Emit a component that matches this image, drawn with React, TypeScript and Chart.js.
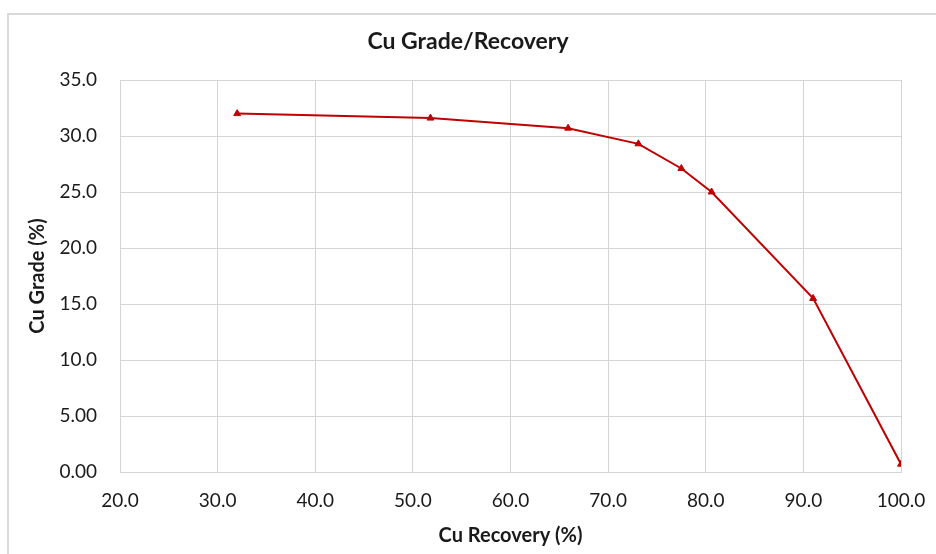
import React, { useEffect, useRef } from "react";
import { Chart, registerables } from "chart.js";

Chart.register(...registerables);

const recovery = [32.0, 51.8, 65.9, 73.1, 77.5, 80.6, 91.0, 100.0];
const grade = [32.0, 31.6, 30.7, 29.3, 27.1, 25.0, 15.5, 0.7];
const yTickLabels = ["0.00", "5.00", "10.0", "15.0", "20.0", "25.0", "30.0", "35.0"];
const xTickLabels = ["20.0", "30.0", "40.0", "50.0", "60.0", "70.0", "80.0", "90.0", "100.0"];
const titleText = "Cu Grade/Recovery";
const xTitle = "Cu Recovery (%)";
const yTitle = "Cu Grade (%)";

const FONT = "Lato, 'Open Sans', sans-serif";
const TEXT = "#1a1a1a";
const GRID = "#d4d4d4";
const RED = "#c00000";

export default function App() {
  const ref = useRef<HTMLCanvasElement | null>(null);

  useEffect(() => {
    if (!ref.current) return;
    const chart = new Chart(ref.current, {
      type: "line",
      data: {
        datasets: [
          {
            label: yTitle,
            data: recovery.map((x, i) => ({ x, y: grade[i] })),
            borderColor: RED,
            backgroundColor: RED,
            borderWidth: 2,
            pointStyle: "triangle",
            pointRadius: 4,
            pointBorderWidth: 1,
            tension: 0,
          },
        ],
      },
      options: {
        responsive: false,
        animation: false,
        layout: { padding: 0 },
        plugins: {
          legend: { display: false },
          tooltip: { enabled: false },
          title: {
            display: true,
            text: titleText,
            color: TEXT,
            font: { family: FONT, size: 23, weight: "bold" },
            padding: { top: 28, bottom: 24.4 },
          },
        },
        scales: {
          x: {
            type: "linear",
            min: 20,
            max: 100,
            afterFit: (s: any) => {
              s.height = 82;
              s.paddingRight = 35;
              s.paddingLeft = 0;
            },
            ticks: {
              stepSize: 10,
              color: TEXT,
              font: { family: FONT, size: 19 },
              padding: 17,
              maxRotation: 0,
              callback: (v: any) => {
                const i = Math.round((Number(v) - 20) / 10);
                return xTickLabels[i] ?? "";
              },
            },
            grid: { color: GRID, lineWidth: 1, drawTicks: false },
            border: { color: GRID, width: 1 },
            title: {
              display: true,
              text: xTitle,
              color: TEXT,
              font: { family: FONT, size: 20, weight: "bold" },
              padding: { top: 0, bottom: 6 },
            },
          },
          y: {
            type: "linear",
            min: 0,
            max: 35,
            afterFit: (s: any) => {
              s.width = 120;
            },
            ticks: {
              stepSize: 5,
              color: TEXT,
              font: { family: FONT, size: 19 },
              padding: 23,
              callback: (v: any) => {
                const i = Math.round(Number(v) / 5);
                return yTickLabels[i] ?? "";
              },
            },
            grid: { color: GRID, lineWidth: 1, drawTicks: false },
            border: { color: GRID, width: 1 },
            title: {
              display: true,
              text: yTitle,
              color: TEXT,
              font: { family: FONT, size: 20, weight: "bold" },
              padding: { top: 26, bottom: 0 },
            },
          },
        },
      },
    });
    return () => chart.destroy();
  }, []);

  return (
    <div
      style={{
        position: "absolute",
        left: 0,
        top: 0,
        width: 936,
        height: 554,
        overflow: "hidden",
        background: "#ffffff",
      }}
    >
      <div
        style={{
          position: "absolute",
          left: 7,
          top: 13,
          width: 1000,
          height: 1000,
          border: "2px solid #d9d9d9",
          boxSizing: "border-box",
        }}
      />
      <canvas
        ref={ref}
        width={936}
        height={554}
        style={{ position: "absolute", left: 0, top: 0 }}
      />
    </div>
  );
}
